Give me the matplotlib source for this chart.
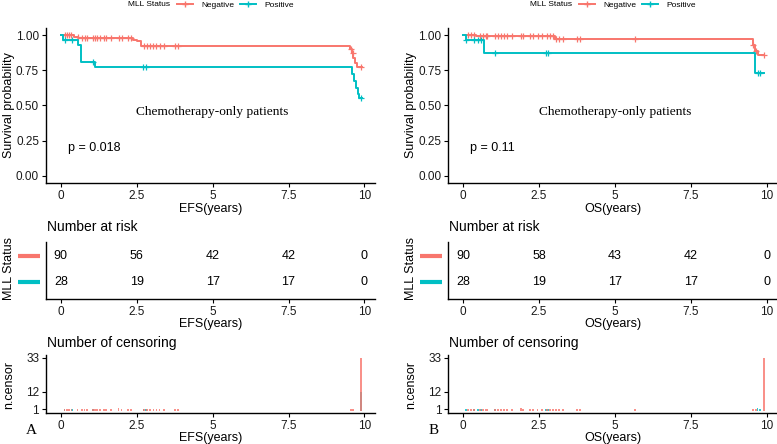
import numpy as np
import matplotlib.pyplot as plt
from matplotlib.lines import Line2D

plt.rcParams['font.family'] = ['Liberation Sans', 'DejaVu Sans']

RED = '#F8766D'
TEAL = '#00BFC4'
W, H = 777, 444

# --- data ---------------------------------------------------------------
# EFS: Kaplan-Meier step points (time, survival) per group
efs_neg_t = [0.42, 0.58, 2.38, 2.5, 2.65, 9.52, 9.58, 9.64, 9.7, 9.76]
efs_neg_s = [0.989, 0.978, 0.967, 0.955, 0.925, 0.90, 0.87, 0.84, 0.80, 0.775]
efs_pos_t = [0.08, 0.56, 0.66, 1.12, 9.6, 9.66, 9.72, 9.78, 9.82]
efs_pos_s = [0.964, 0.93, 0.81, 0.77, 0.72, 0.67, 0.62, 0.58, 0.55]
efs_neg_cens_t = [0.12, 0.2, 0.28, 0.35, 0.55, 0.7, 0.78, 0.85, 1.05, 1.12, 1.2,
                  1.3, 1.42, 1.5, 1.65, 1.9, 2.0, 2.2, 2.3, 2.75, 2.85, 2.95,
                  3.05, 3.15, 3.25, 3.4, 3.75, 3.85, 9.55, 9.62, 9.9]
efs_neg_cens_n = [1, 1, 1, 1, 1, 1, 1, 1, 1, 1, 1, 1, 1, 1, 1, 2, 1, 1, 1, 1,
                  1, 1, 1, 1, 1, 1, 1, 1, 1, 1, 33]
efs_pos_cens_t = [0.12, 0.38, 1.05, 2.72, 2.8, 9.9]
efs_pos_cens_n = [1, 1, 1, 1, 1, 12]

# OS
os_neg_t = [0.42, 3.02, 9.55, 9.62, 9.7]
os_neg_s = [0.99, 0.975, 0.93, 0.89, 0.855]
os_pos_t = [0.1, 0.68, 9.62]
os_pos_s = [0.964, 0.875, 0.73]
os_neg_cens_t = [0.15, 0.25, 0.35, 0.55, 0.65, 0.75, 0.8, 1.05, 1.15, 1.25,
                 1.35, 1.45, 1.6, 1.9, 1.97, 2.2, 2.3, 2.45, 2.6, 2.75, 2.85,
                 2.95, 3.05, 3.15, 3.3, 3.75, 3.85, 5.65, 9.55, 9.65, 9.9]
os_neg_cens_n = [1, 1, 1, 1, 1, 1, 1, 1, 1, 1, 1, 1, 1, 2, 1, 1, 1, 1, 1, 1,
                 1, 1, 1, 1, 1, 1, 1, 1, 1, 1, 33]
os_pos_cens_t = [0.1, 0.35, 0.5, 0.6, 1.05, 2.72, 2.8, 9.7, 9.78]
os_pos_cens_n = [1, 1, 1, 1, 1, 1, 1, 2, 1]
end_time = 9.92

risk_times = [0, 2.5, 5, 7.5, 10]
efs_risk_neg = [90, 56, 42, 42, 0]
efs_risk_pos = [28, 19, 17, 17, 0]
os_risk_neg = [90, 58, 43, 42, 0]
os_risk_pos = [28, 19, 17, 17, 0]

x_ticks = [0, 2.5, 5, 7.5, 10]
x_ticklabels = ['0', '2.5', '5', '7.5', '10']
XLIM = (-0.49, 10.35)


def px_axes(fig, left, top, right, bottom):
    return fig.add_axes([left / W, 1 - bottom / H, (right - left) / W, (bottom - top) / H])


def style(ax):
    for s in ['top', 'right']:
        ax.spines[s].set_visible(False)
    for s in ['left', 'bottom']:
        ax.spines[s].set_linewidth(1.0)
        ax.spines[s].set_color('black')
    ax.tick_params(labelsize=8.5, length=3, width=0.8, colors='black',
                   labelcolor='#1a1a1a', pad=2)
    ax.set_xlim(*XLIM)
    ax.set_xticks(x_ticks)
    ax.set_xticklabels(x_ticklabels)


def step_value(t_list, s_list, t):
    t_arr = np.array([0.0] + list(t_list))
    s_arr = np.array([1.0] + list(s_list))
    idx = np.searchsorted(t_arr, t, side='right') - 1
    return s_arr[idx]


def km_panel(x0, xlab, pval, groups, cens_counts, risk_neg, risk_pos, letter):
    # main survival plot
    ax = px_axes(fig, x0 + 46, 28, x0 + 375, 182.7)
    style(ax)
    for t, s, ct, color in groups:
        tt = [0.0] + list(t) + [end_time]
        ss = [1.0] + list(s) + [s[-1]]
        ax.step(tt, ss, where='post', color=color, lw=1.4)
        cy = [step_value(t, s, c) for c in ct]
        ax.plot(ct, cy, '+', color=color, ms=5, mew=0.9)
    ax.set_ylim(-0.05, 1.05)
    ax.set_yticks([0, 0.25, 0.5, 0.75, 1.0])
    ax.set_yticklabels(['0.00', '0.25', '0.50', '0.75', '1.00'])
    fig.text((x0 + 9) / W, 1 - 105 / H, 'Survival probability', rotation=90,
             ha='center', va='center', fontsize=9)
    ax.set_xlabel(xlab, fontsize=9, labelpad=1)
    ax.text(5.0, 0.45, 'Chemotherapy-only patients', ha='center', va='center',
            fontsize=9.6, family='Liberation Serif')
    ax.text(0.22, 0.2, pval, ha='left', va='center', fontsize=9)

    # legend at top
    fig.text((x0 + 149) / W, 1 - 5 / H, 'MLL Status', ha='center', va='center', fontsize=6)
    handles = [Line2D([], [], color=RED, lw=1.4, marker='+', ms=5),
               Line2D([], [], color=TEAL, lw=1.4, marker='+', ms=5)]
    fig.legend(handles, ['Negative', 'Positive'], ncol=2, loc='center left',
               bbox_to_anchor=((x0 + 177) / W, 1 - 5 / H), frameon=False,
               fontsize=6, handlelength=1.9, columnspacing=0.7, handletextpad=1.0,
               borderpad=0, borderaxespad=0)

    # risk table
    rax = px_axes(fig, x0 + 46, 241.7, x0 + 375, 299)
    style(rax)
    rax.set_ylim(0.344, 2.554)
    rax.set_yticks([])
    for xv, n in zip(risk_times, risk_neg):
        rax.text(xv, 2, str(n), ha='center', va='center', fontsize=9)
    for xv, n in zip(risk_times, risk_pos):
        rax.text(xv, 1, str(n), ha='center', va='center', fontsize=9)
    trans = rax.get_yaxis_transform()
    for yv, color in [(2, RED), (1, TEAL)]:
        x_a = (18 - 46) / 329
        x_b = (40 - 46) / 329
        rax.plot([x_a, x_b], [yv, yv], color=color, lw=3, transform=trans, clip_on=False,
                 solid_capstyle='butt')
    rax.set_xlabel(xlab, fontsize=9, labelpad=0)
    fig.text((x0 + 9) / W, 1 - 268 / H, 'MLL Status', rotation=90, ha='center',
             va='center', fontsize=9)
    fig.text((x0 + 47) / W, 1 - 227 / H, 'Number at risk', ha='left', va='center', fontsize=10)

    # censoring plot (teal drawn first so the red bars sit on top)
    cax = px_axes(fig, x0 + 46, 355, x0 + 375, 412.7)
    style(cax)
    for (t, s, ct, color), cn in list(zip(groups, cens_counts))[::-1]:
        cax.bar(ct, cn, width=0.06, color=color, alpha=0.8, linewidth=0)
    cax.set_ylim(-1.0, 34.7)
    cax.set_yticks([1, 12, 33])
    cax.set_yticklabels(['1', '12', '33'])
    fig.text((x0 + 9) / W, 1 - 385 / H, 'n.censor', rotation=90, ha='center',
             va='center', fontsize=9)
    cax.set_xlabel(xlab, fontsize=9, labelpad=0)
    fig.text((x0 + 47) / W, 1 - 343 / H, 'Number of censoring', ha='left', va='center',
             fontsize=10)
    fig.text((x0 + 31) / W, 1 - 430 / H, letter, ha='center', va='center', fontsize=11,
             family='Liberation Serif')


fig = plt.figure(figsize=(W / 100, H / 100), dpi=100)

km_panel(0, 'EFS(years)', 'p = 0.018',
         [(efs_neg_t, efs_neg_s, efs_neg_cens_t, RED), (efs_pos_t, efs_pos_s, efs_pos_cens_t, TEAL)],
         [efs_neg_cens_n, efs_pos_cens_n], efs_risk_neg, efs_risk_pos, 'A')

km_panel(402.3, 'OS(years)', 'p = 0.11',
         [(os_neg_t, os_neg_s, os_neg_cens_t, RED), (os_pos_t, os_pos_s, os_pos_cens_t, TEAL)],
         [os_neg_cens_n, os_pos_cens_n], os_risk_neg, os_risk_pos, 'B')

fig.savefig('out.png', dpi=100)
